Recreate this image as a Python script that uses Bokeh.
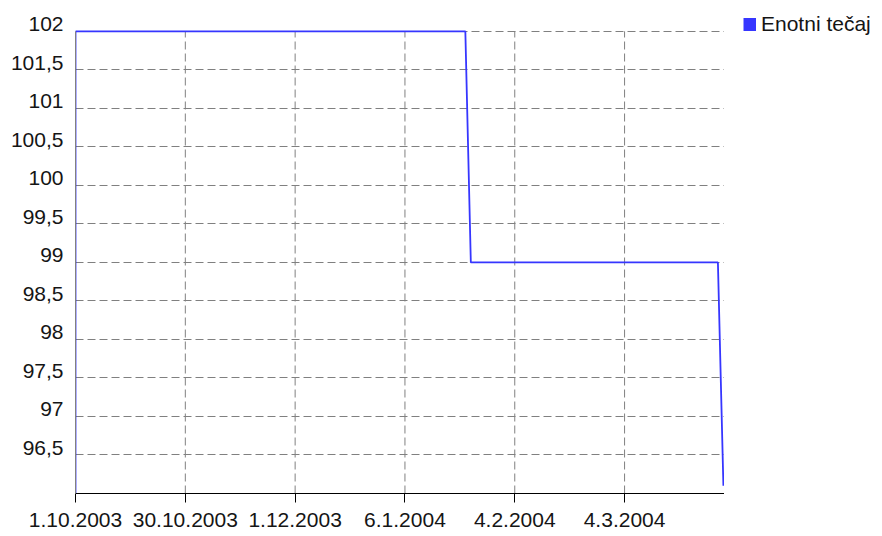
from bokeh.plotting import figure
from bokeh.layouts import row
from bokeh.models import (Range1d, FixedTicker, Legend, LegendItem, ColumnDataSource)
from bokeh.embed import file_html
from bokeh.resources import INLINE

# ---- data ----
obs_index = [0, 0, 71, 72, 117, 118]
unit_price = [96.0, 102.0, 102.0, 99.0, 99.0, 96.1]
series_name = "Enotni tečaj"

x_tick_index = [0, 20, 40, 60, 80, 100]
x_tick_labels = ["1.10.2003", "30.10.2003", "1.12.2003", "6.1.2004", "4.2.2004", "4.3.2004"]

y_ticks = [96.5, 97, 97.5, 98, 98.5, 99, 99.5, 100, 100.5, 101, 101.5, 102]
y_tick_labels = ["96,5", "97", "97,5", "98", "98,5", "99", "99,5", "100", "100,5", "101", "101,5", "102"]

FONT = "Liberation Sans"
BLUE = "#3636ff"
TEXT = "#151515"
GRID = "#808080"

Y_MIN, Y_MAX = 96.0, 102.0       # value axis extent
X_MAX = 118.2
Y_TOP = Y_MAX + 0.40             # headroom above the chart area (for legend row)

src = ColumnDataSource(dict(x=obs_index, y=unit_price))

p = figure(width=724, height=536, output_backend="svg", toolbar_location=None,
           x_range=Range1d(0, X_MAX), y_range=Range1d(Y_MIN, Y_TOP),
           min_border_left=75, min_border_right=0, min_border_top=0, min_border_bottom=43)
p.outline_line_color = None
p.background_fill_color = "white"
p.border_fill_color = "white"

# vertical dashed grid lines, limited to the value extent
vg = ColumnDataSource(dict(x=x_tick_index[1:], y0=[Y_MIN] * 5, y1=[Y_MAX] * 5))
p.segment(x0="x", y0="y0", x1="x", y1="y1", source=vg,
          line_color=GRID, line_width=1, line_dash="8 4")
p.xgrid.visible = False

yg = p.ygrid[0]
yg.ticker = FixedTicker(ticks=y_ticks)
yg.grid_line_color = GRID
yg.grid_line_dash = "8 4"
yg.grid_line_width = 1

p.line("x", "y", source=src, line_color=BLUE, line_width=1.8)

# x axis
xa = p.xaxis[0]
xa.ticker = FixedTicker(ticks=x_tick_index)
xa.major_label_overrides = {t: l for t, l in zip(x_tick_index, x_tick_labels)}
xa.axis_line_color = "black"
xa.major_tick_line_color = "black"
xa.major_tick_out = 9
xa.major_tick_in = 0
xa.minor_tick_line_color = None
xa.major_label_standoff = 10
xa.major_label_text_font = FONT
xa.major_label_text_font_size = "21px"
xa.major_label_text_color = TEXT

# y axis: labels sit just above their grid lines (second, blank line lifts them)
ya = p.yaxis[0]
ya.bounds = (Y_MIN, Y_MAX)
ya.ticker = FixedTicker(ticks=y_ticks)
ya.major_label_overrides = {t: l + "\n\u00a0" for t, l in zip(y_ticks, y_tick_labels)}
ya.axis_line_color = GRID
ya.major_tick_line_color = None
ya.major_tick_out = 0
ya.major_tick_in = 0
ya.minor_tick_line_color = None
ya.major_label_standoff = 12
ya.major_label_text_font = FONT
ya.major_label_text_font_size = "21px"
ya.major_label_text_color = TEXT
ya.major_label_text_line_height = 0.67

# legend panel to the right of the plot area
lp = figure(width=158, height=536, output_backend="svg", toolbar_location=None,
            x_axis_location=None, y_axis_location=None,
            min_border_left=7, min_border_right=0, min_border_top=0, min_border_bottom=0)
lp.grid.visible = False
lp.outline_line_color = None
lp.background_fill_color = "white"
lp.border_fill_color = "white"
key = lp.line("x", "y", source=src, line_color=BLUE, line_width=13, line_cap="butt", visible=False)

legend = Legend(items=[LegendItem(label=series_name, renderers=[key])],
                location="top_left", orientation="vertical", click_policy="none",
                glyph_width=13, glyph_height=24, label_height=24, label_standoff=5,
                padding=0, margin=12, spacing=0,
                border_line_color=None, background_fill_color=None,
                label_text_font=FONT, label_text_font_size="21px",
                label_text_color=TEXT)
lp.add_layout(legend, "center")

layout = row(p, lp, spacing=0)
open("out.html", "w").write(file_html(layout, INLINE))
